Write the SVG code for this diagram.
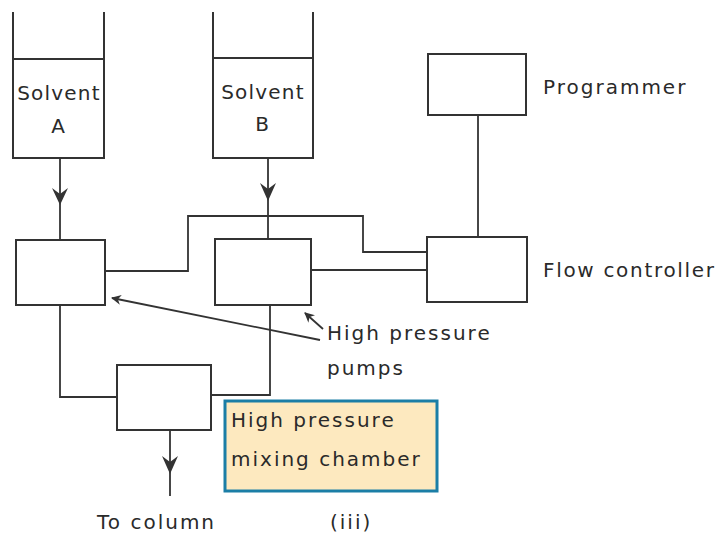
<svg xmlns="http://www.w3.org/2000/svg" width="722" height="535" viewBox="0 0 722 535">
<defs>
<style>
.b{fill:none;stroke:#333;stroke-width:2}
.l{fill:none;stroke:#333;stroke-width:1.8}
.t{font-family:"DejaVu Sans","Liberation Sans",sans-serif;font-size:20px;fill:#2a2a2a;letter-spacing:2px}
.s{letter-spacing:1.2px}
.ah{fill:#333;stroke:none}
</style>
<marker id="sa" viewBox="0 0 10 10" refX="9" refY="5" markerWidth="10" markerHeight="10" markerUnits="userSpaceOnUse" orient="auto">
<path d="M0,0 L10,5 L0,10 L3,5 Z" fill="#333"/>
</marker>
</defs>
<rect width="722" height="535" fill="#fff"/>
<g id="solventA">
<path class="b" d="M13,12 V158 H104 V12"/>
<line class="b" x1="13" y1="59" x2="104" y2="59"/>
<text class="t s" x="59" y="100" text-anchor="middle">Solvent</text>
<text class="t" x="59" y="133" text-anchor="middle">A</text>
</g>
<g id="solventB">
<path class="b" d="M213,12 V158 H313 V12"/>
<line class="b" x1="213" y1="58" x2="313" y2="58"/>
<text class="t s" x="263" y="99" text-anchor="middle">Solvent</text>
<text class="t" x="263" y="131" text-anchor="middle">B</text>
</g>
<g id="pumpA"><rect class="b" x="16" y="240" width="89" height="65"/></g>
<g id="pumpB"><rect class="b" x="215" y="239" width="96" height="66"/></g>
<g id="programmer">
<rect class="b" x="428" y="54" width="98" height="61"/>
<text class="t" x="543" y="94">Programmer</text>
</g>
<g id="flowController">
<rect class="b" x="427" y="237" width="100" height="65"/>
<text class="t" x="543" y="277" textLength="173">Flow controller</text>
</g>
<g id="mixer"><rect class="b" x="117" y="365" width="94" height="65"/></g>
<g id="note">
<rect x="225" y="401" width="212" height="90" fill="#fde9bf" stroke="#1b7ea6" stroke-width="3"/>
<text class="t" x="231" y="427" fill="#3a3020">High pressure</text>
<text class="t" x="231" y="466" fill="#3a3020">mixing chamber</text>
</g>
<g id="labels">
<text class="t" x="327" y="340">High pressure</text>
<text class="t" x="327" y="375">pumps</text>
<text class="t" x="97" y="529">To column</text>
<text class="t" x="330" y="529">(iii)</text>
</g>
<g id="connectors">
<line class="l" x1="60" y1="158" x2="60" y2="240"/>
<path class="ah" d="M52,188 L60,205 L68,188 L60,194 Z"/>
<line class="l" x1="268" y1="158" x2="268" y2="239"/>
<path class="ah" d="M260,183 L268,201 L276,183 L268,189 Z"/>
<path class="l" d="M105,271 H188 V216 H363 V252 H427"/>
<line class="l" x1="311" y1="270" x2="427" y2="270"/>
<line class="l" x1="478" y1="115" x2="478" y2="237"/>
<path class="l" d="M60,305 V397 H117"/>
<path class="l" d="M270,305 V395 H211"/>
<line class="l" x1="170" y1="430" x2="170" y2="496"/>
<path class="ah" d="M162,456 L170,474 L178,456 L170,462 Z"/>
<line class="l" x1="320" y1="340" x2="112" y2="298" marker-end="url(#sa)"/>
<line class="l" x1="323" y1="329" x2="305" y2="313" marker-end="url(#sa)"/>
</g>
</svg>
